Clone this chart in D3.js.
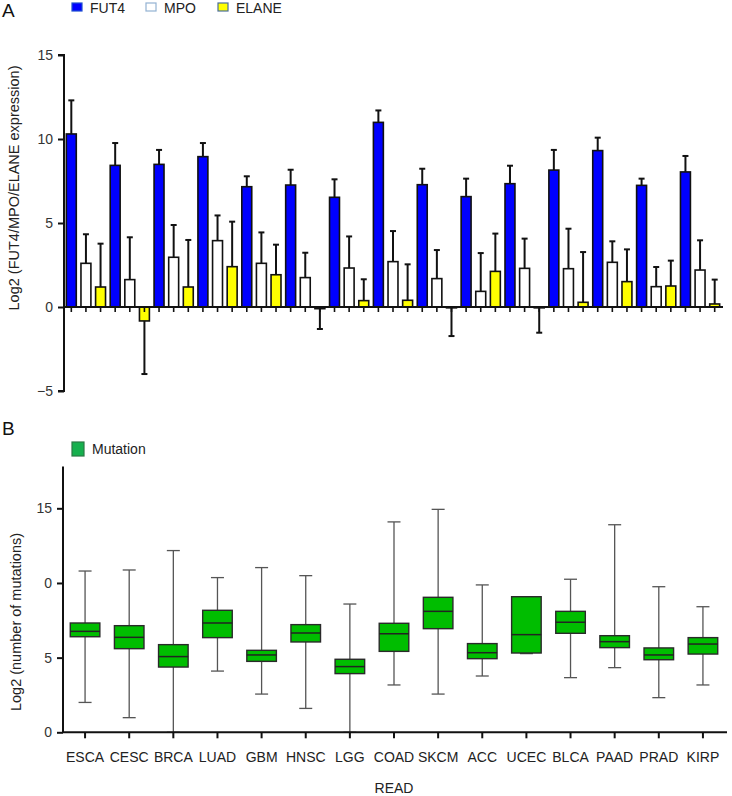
<!DOCTYPE html>
<html>
<head>
<meta charset="utf-8">
<script src="https://cdn.jsdelivr.net/npm/d3@7/dist/d3.min.js"></script>
<style>
  html, body { margin: 0; padding: 0; background: #fff; }
  svg { display: block; font-family: "Liberation Sans", Arial, Helvetica, sans-serif; }
</style>
</head>
<body>
<svg id="chart" width="732" height="796"></svg>
<script>
// ---------------- DATA ----------------
const categories = ["ESCA","CESC","BRCA","LUAD","GBM","HNSC","LGG","COAD","SKCM","ACC","UCEC","BLCA","PAAD","PRAD","KIRP"];
const seriesNames = ["FUT4","MPO","ELANE"];
// Panel A: mean and upper end of the error bar (one-sided)
const fut4Mean  = [10.3, 8.43, 8.49, 8.95, 7.16, 7.26, 6.53, 10.99, 7.28, 6.57, 7.34, 8.15, 9.31, 7.24, 8.04];
const fut4Err   = [12.3, 9.76, 9.35, 9.76, 7.78, 8.17, 7.60, 11.70, 8.23, 7.64, 8.41, 9.35, 10.08, 7.64, 8.99];
const mpoMean   = [2.60, 1.63, 2.96, 3.95, 2.60, 1.75, 2.32, 2.70, 1.69, 0.93, 2.30, 2.28, 2.66, 1.21, 2.20];
const mpoErr    = [4.33, 4.15, 4.88, 5.45, 4.44, 3.23, 4.20, 4.52, 3.39, 3.21, 4.07, 4.66, 3.91, 2.38, 3.97];
const elaneMean = [1.19, -0.83, 1.19, 2.40, 1.92, -0.10, 0.38, 0.40, -0.05, 2.12, -0.05, 0.28, 1.51, 1.25, 0.18];
const elaneErr  = [3.77, -3.99, 3.99, 5.08, 3.71, -1.31, 1.65, 2.54, -1.73, 4.37, -1.53, 3.27, 3.43, 2.76, 1.63];
const yTicksA = [-5, 0, 5, 10, 15];
const yTickLabelsA = ["\u22125", "0", "5", "10", "15"];

// Panel B: box plot statistics
const whiskerLow  = [2.00, 0.98, 0.00, 4.10, 2.56, 1.60, 0.00, 3.17, 2.56, 3.77, 5.27, 3.66, 4.33, 2.32, 3.17];
const q1          = [6.40, 5.60, 4.37, 6.34, 4.75, 6.05, 3.93, 5.42, 6.94, 4.93, 5.31, 6.63, 5.67, 4.86, 5.24];
const median      = [6.76, 6.36, 5.07, 7.32, 5.18, 6.65, 4.40, 6.60, 8.10, 5.33, 6.54, 7.37, 6.07, 5.18, 5.91];
const q3          = [7.32, 7.14, 5.87, 8.17, 5.49, 7.21, 4.89, 7.30, 9.04, 5.94, 9.08, 8.10, 6.47, 5.65, 6.34];
const whiskerHigh = [10.80, 10.87, 12.17, 10.36, 11.03, 10.49, 8.59, 14.09, 14.93, 9.87, 9.08, 10.25, 13.90, 9.75, 8.41];
const yTicksB = [0, 5, 10, 15];
const yTickLabelsB = ["0", "5", "0", "15"];

// ---------------- DRAW ----------------
const svg = d3.select("#chart");
const colors = { FUT4: "#0000ff", MPO: "#ffffff", ELANE: "#ffff00" };
const legendStroke = { FUT4: "#1f4fd0", MPO: "#93b2d3", ELANE: "#4a6e9a" };

// ===== Panel A =====
const yA = d3.scaleLinear().domain([-5, 15]).range([391, 55]);
const xA = d3.scaleBand().domain(categories).range([64, 722]).paddingInner(0).paddingOuter(0);
const xSub = d3.scaleBand().domain(seriesNames).range([0, xA.bandwidth()]).paddingInner(0.32).paddingOuter(0.16);

svg.append("text").attr("x", 2).attr("y", 17).attr("font-size", 19).attr("fill", "#111").text("A");

// legend A
const legA = svg.append("g");
const legX = [72, 146, 218];
seriesNames.forEach((s, i) => {
  legA.append("rect").attr("x", legX[i]).attr("y", 3).attr("width", 10).attr("height", 8)
    .attr("fill", colors[s]).attr("stroke", legendStroke[s]).attr("stroke-width", 1.2);
  legA.append("text").attr("x", legX[i] + 18).attr("y", 13).attr("font-size", 14).attr("fill", "#222").text(s);
});

const rowsA = categories.map((c, i) => ([
  { cat: c, s: "FUT4", v: fut4Mean[i], e: fut4Err[i] },
  { cat: c, s: "MPO", v: mpoMean[i], e: mpoErr[i] },
  { cat: c, s: "ELANE", v: elaneMean[i], e: elaneErr[i] }
])).flat();

const gA = svg.append("g");
// error bars (behind bars)
gA.selectAll("line.err").data(rowsA).enter().append("line")
  .attr("x1", d => xA(d.cat) + xSub(d.s) + xSub.bandwidth() / 2)
  .attr("x2", d => xA(d.cat) + xSub(d.s) + xSub.bandwidth() / 2)
  .attr("y1", d => yA(d.v)).attr("y2", d => yA(d.e))
  .attr("stroke", "#111").attr("stroke-width", 2);
gA.selectAll("line.cap").data(rowsA).enter().append("line")
  .attr("x1", d => xA(d.cat) + xSub(d.s) + xSub.bandwidth() / 2 - 3)
  .attr("x2", d => xA(d.cat) + xSub(d.s) + xSub.bandwidth() / 2 + 3)
  .attr("y1", d => yA(d.e)).attr("y2", d => yA(d.e))
  .attr("stroke", "#111").attr("stroke-width", 2);
// bars
gA.selectAll("rect.bar").data(rowsA).enter().append("rect")
  .attr("x", d => xA(d.cat) + xSub(d.s))
  .attr("width", xSub.bandwidth())
  .attr("y", d => Math.min(yA(d.v), yA(0)))
  .attr("height", d => Math.abs(yA(d.v) - yA(0)))
  .attr("fill", d => colors[d.s]).attr("stroke", "#111").attr("stroke-width", 1.6);

// x axis A (line at zero + ticks under each bar)
gA.append("line").attr("x1", 64).attr("x2", 723).attr("y1", yA(0)).attr("y2", yA(0))
  .attr("stroke", "#111").attr("stroke-width", 2);
gA.selectAll("line.xt").data(rowsA).enter().append("line")
  .attr("x1", d => xA(d.cat) + xSub(d.s) + xSub.bandwidth() / 2)
  .attr("x2", d => xA(d.cat) + xSub(d.s) + xSub.bandwidth() / 2)
  .attr("y1", yA(0)).attr("y2", yA(0) + 5)
  .attr("stroke", "#111").attr("stroke-width", 1.6);

// y axis A
const axA = svg.append("g").attr("transform", "translate(64,0)")
  .call(d3.axisLeft(yA).tickValues(yTicksA).tickSize(6).tickPadding(5)
    .tickFormat((d, i) => yTickLabelsA[i]));
axA.select(".domain").attr("stroke", "#111").attr("stroke-width", 2).attr("d", `M-6,${yA(15)}H0V${yA(-5)}H-6`);
axA.selectAll(".tick line").attr("stroke", "#111").attr("stroke-width", 2);
axA.selectAll(".tick text").attr("font-size", 14).attr("fill", "#333")
  .attr("font-family", "'Liberation Sans', Arial, sans-serif");

svg.append("text").attr("transform", `translate(19,188) rotate(-90)`)
  .attr("text-anchor", "middle").attr("font-size", 14.5).attr("fill", "#222")
  .text("Log2 (FUT4/MPO/ELANE expression)");

// ===== Panel B =====
const yB = d3.scaleLinear().domain([0, 17.8]).range([732.3, 466.5]);
const xB = d3.scaleBand().domain(categories).range([63, 725]).paddingInner(0.33).paddingOuter(0.165);

svg.append("text").attr("x", 2).attr("y", 435).attr("font-size", 19).attr("fill", "#111").text("B");
svg.append("rect").attr("x", 72).attr("y", 442).attr("width", 12).attr("height", 14)
  .attr("fill", "#16b04e").attr("stroke", "#2b7a45").attr("stroke-width", 1.2);
svg.append("text").attr("x", 92).attr("y", 454).attr("font-size", 14).attr("fill", "#222").text("Mutation");

const rowsB = categories.map((c, i) => ({ cat: c, lo: whiskerLow[i], q1: q1[i], med: median[i], q3: q3[i], hi: whiskerHigh[i] }));
const gB = svg.append("g");
const cx = d => xB(d.cat) + xB.bandwidth() / 2;
gB.selectAll("line.wh").data(rowsB).enter().append("line")
  .attr("x1", cx).attr("x2", cx).attr("y1", d => yB(d.lo)).attr("y2", d => yB(d.hi))
  .attr("stroke", "#555").attr("stroke-width", 1.3);
["lo", "hi"].forEach(k => {
  gB.selectAll("line.cap" + k).data(rowsB).enter().append("line")
    .attr("x1", d => cx(d) - 6.5).attr("x2", d => cx(d) + 6.5)
    .attr("y1", d => yB(d[k])).attr("y2", d => yB(d[k]))
    .attr("stroke", "#555").attr("stroke-width", 1.3);
});
gB.selectAll("rect.box").data(rowsB).enter().append("rect")
  .attr("x", d => xB(d.cat)).attr("width", xB.bandwidth())
  .attr("y", d => yB(d.q3)).attr("height", d => yB(d.q1) - yB(d.q3))
  .attr("fill", "#00bd00").attr("stroke", "#2a2a2a").attr("stroke-width", 1.4);
gB.selectAll("line.med").data(rowsB).enter().append("line")
  .attr("x1", d => xB(d.cat)).attr("x2", d => xB(d.cat) + xB.bandwidth())
  .attr("y1", d => yB(d.med)).attr("y2", d => yB(d.med))
  .attr("stroke", "#222").attr("stroke-width", 1.5);

// axes B
const axBy = svg.append("g").attr("transform", "translate(63,0)")
  .call(d3.axisLeft(yB).tickValues(yTicksB).tickSize(6).tickPadding(5)
    .tickFormat((d, i) => yTickLabelsB[i]));
axBy.select(".domain").attr("stroke", "#111").attr("stroke-width", 2).attr("d", `M0,${yB(17.8)}V${yB(0)}`);
axBy.selectAll(".tick line").attr("stroke", "#111").attr("stroke-width", 2);
axBy.selectAll(".tick text").attr("font-size", 14).attr("fill", "#333")
  .attr("font-family", "'Liberation Sans', Arial, sans-serif");

const axBx = svg.append("g").attr("transform", `translate(0,${yB(0)})`)
  .call(d3.axisBottom(xB).tickSize(6).tickPadding(14));
axBx.select(".domain").attr("stroke", "#111").attr("stroke-width", 2).attr("d", `M63,0H727`);
axBx.selectAll(".tick line").attr("stroke", "#111").attr("stroke-width", 2);
axBx.selectAll(".tick text").attr("font-size", 14).attr("fill", "#222")
  .attr("font-family", "'Liberation Sans', Arial, sans-serif");

svg.append("text").attr("transform", `translate(21,622) rotate(-90)`)
  .attr("text-anchor", "middle").attr("font-size", 14.5).attr("fill", "#222")
  .text("Log2 (number of mutations)");
svg.append("text").attr("x", 394).attr("y", 793).attr("text-anchor", "middle")
  .attr("font-size", 14).attr("fill", "#222").text("READ");
</script>
</body>
</html>
